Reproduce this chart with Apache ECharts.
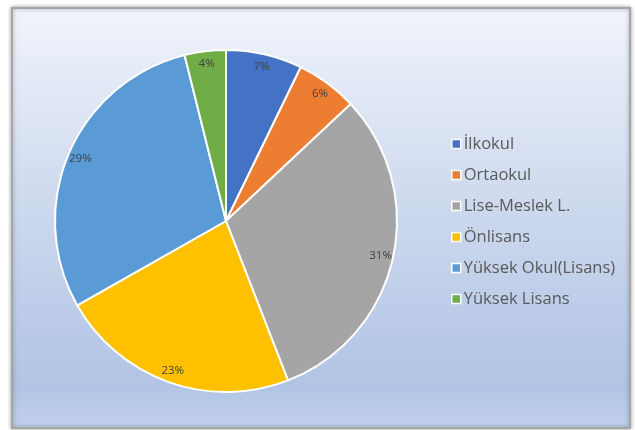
<!DOCTYPE html>
<html>
<head>
<meta charset="utf-8">
<script src="https://cdn.jsdelivr.net/npm/echarts@6/dist/echarts.min.js"></script>
<style>
  html, body { margin: 0; padding: 0; background: #fff; }
  #chart { width: 635px; height: 430px; }
</style>
</head>
<body>
<div id="chart"></div>
<script>
// egitim durumu dagilimi (yuzde)
var categories = ['İlkokul', 'Ortaokul', 'Lise-Meslek L.', 'Önlisans', 'Yüksek Okul(Lisans)', 'Yüksek Lisans'];
var values = [7.2, 5.8, 31.1, 22.7, 29.3, 3.9];
var colors = ['#4472C4', '#ED7D31', '#A5A5A5', '#FFC000', '#5B9BD5', '#70AD47'];

var chart = echarts.init(document.getElementById('chart'));

var pieData = categories.map(function (name, i) {
    return { name: name, value: values[i], itemStyle: { color: colors[i] } };
});
var labelData = categories.map(function (name, i) {
    return { name: name, value: values[i] };
});

var center = [226, 221];

var option = {
    animation: false,
    graphic: [{
        type: 'rect',
        shape: { x: 12, y: 8, width: 618, height: 420 },
        style: {
            fill: new echarts.graphic.LinearGradient(0, 0, 0, 1, [
                { offset: 0, color: '#f0f4fb' },
                { offset: 0.5, color: '#cbd7ed' },
                { offset: 0.9, color: '#b1c4e5' },
                { offset: 1, color: '#c2d1eb' }
            ]),
            stroke: '#a6a6a6',
            lineWidth: 2,
            shadowBlur: 4,
            shadowColor: 'rgba(0,0,0,0.35)'
        },
        z: -10
    }],
    legend: {
        orient: 'vertical',
        left: 446,
        top: 130,
        itemWidth: 9,
        itemHeight: 9,
        itemGap: 13,
        icon: 'rect',
        itemStyle: { borderColor: '#ffffff', borderWidth: 1.5 },
        textStyle: {
            fontFamily: 'Open Sans',
            fontSize: 16.5,
            lineHeight: 18,
            color: '#595959',
            padding: [0, 0, 0, -2]
        },
        data: categories
    },
    series: [{
        type: 'pie',
        center: center,
        radius: [0, 171],
        startAngle: 90,
        clockwise: true,
        data: pieData,
        itemStyle: { borderColor: '#ffffff', borderWidth: 2 },
        label: { show: false },
        labelLine: { show: false },
        emphasis: { disabled: true }
    }, {
        // yalnizca etiketler icin seffaf halka
        type: 'pie',
        center: center,
        radius: [140, 171],
        startAngle: 90,
        clockwise: true,
        silent: true,
        legendHoverLink: false,
        data: labelData,
        itemStyle: { color: 'rgba(0,0,0,0)' },
        label: {
            show: true,
            position: 'inside',
            fontFamily: 'Open Sans',
            fontSize: 11.5,
            color: '#404040',
            formatter: function (p) { return Math.round(p.percent) + '%'; }
        },
        labelLine: { show: false },
        emphasis: { disabled: true }
    }]
};

chart.setOption(option);
</script>
</body>
</html>
